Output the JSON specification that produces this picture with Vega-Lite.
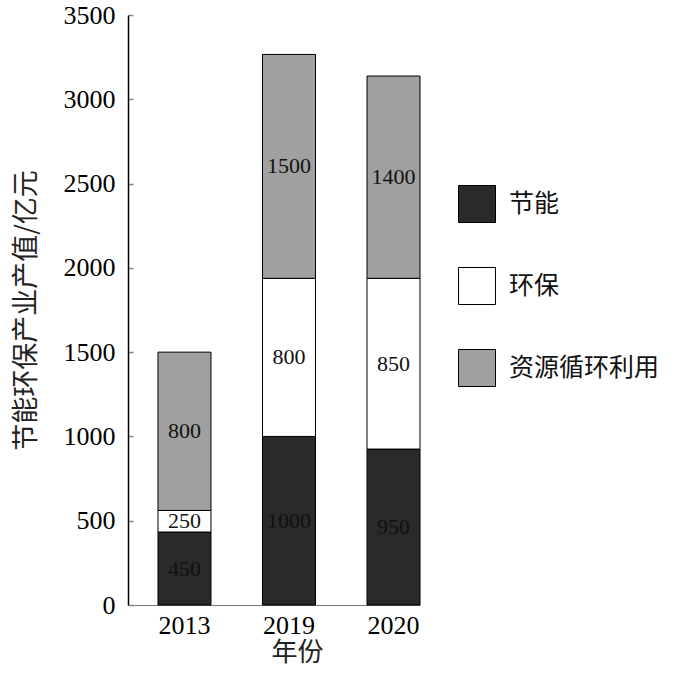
{
  "$schema": "https://vega.github.io/schema/vega-lite/v6.json",
  "autosize": "none",
  "padding": {"left": 128, "top": 15, "right": 255, "bottom": 68},
  "width": 292,
  "height": 590,
  "background": "white",
  "data": {"values": [
    {"year": "2013", "type": "节能", "k": 1, "value": 433, "label": "450"},
    {"year": "2013", "type": "环保", "k": 2, "value": 128, "label": "250"},
    {"year": "2013", "type": "资源循环利用", "k": 3, "value": 939, "label": "800"},
    {"year": "2019", "type": "节能", "k": 1, "value": 1000, "label": "1000"},
    {"year": "2019", "type": "环保", "k": 2, "value": 938, "label": "800"},
    {"year": "2019", "type": "资源循环利用", "k": 3, "value": 1328, "label": "1500"},
    {"year": "2020", "type": "节能", "k": 1, "value": 925, "label": "950"},
    {"year": "2020", "type": "环保", "k": 2, "value": 1013, "label": "850"},
    {"year": "2020", "type": "资源循环利用", "k": 3, "value": 1200, "label": "1400"}
  ]},
  "encoding": {
    "x": {
      "field": "year", "type": "nominal",
      "scale": {"paddingInner": 0.493, "paddingOuter": 0.1435, "align": 1},
      "axis": {
        "title": "年份", "labelAngle": 0, "ticks": false,
        "domainColor": "#777", "domainWidth": 1,
        "labelFont": "Liberation Serif", "labelFontSize": 26, "labelColor": "#000", "labelPadding": 7,
        "titleFont": "Noto Sans CJK SC", "titleFontSize": 26, "titleFontWeight": "normal", "titleColor": "#222",
        "titleX": 169, "titleY": 47, "titleBaseline": "middle", "titleAlign": "center", "titleAnchor": null
      }
    }
  },
  "layer": [
    {
      "mark": {"type": "bar", "stroke": "#000", "strokeWidth": 1},
      "encoding": {
        "y": {
          "field": "value", "type": "quantitative", "stack": "zero",
          "scale": {"domain": [0, 3500], "nice": false},
          "axis": {
            "values": [0, 500, 1000, 1500, 2000, 2500, 3000, 3500], "format": "d",
            "grid": false, "domainColor": "#000", "domainWidth": 1.5,
            "tickSize": -5, "tickColor": "#888", "tickWidth": 1.5,
            "labelFont": "Liberation Serif", "labelFontSize": 26, "labelColor": "#000", "labelPadding": 18,
            "title": "节能环保产业产值/亿元",
            "titleFont": "Noto Sans CJK SC", "titleFontSize": 27, "titleFontWeight": "normal", "titleColor": "#222",
            "titleAngle": -90, "titleX": -102, "titleY": 295, "titleBaseline": "middle", "titleAlign": "center", "titleAnchor": null
          }
        },
        "color": {
          "field": "type", "type": "nominal",
          "scale": {"domain": ["节能", "环保", "资源循环利用"], "range": ["#2a2a2a", "#ffffff", "#a0a0a0"]},
          "legend": {
            "title": null, "orient": "none", "legendX": 330, "legendY": 170,
            "symbolType": "square", "symbolSize": 1369, "symbolStrokeColor": "#000", "symbolStrokeWidth": 1,
            "labelFont": "Noto Sans CJK SC", "labelFontSize": 25, "labelColor": "#111", "labelOffset": 13,
            "rowPadding": 40, "padding": 0, "labelLimit": 300
          }
        },
        "order": {"field": "k", "type": "quantitative"}
      }
    },
    {
      "mark": {"type": "text", "font": "Liberation Serif", "fontSize": 22, "color": "#111", "baseline": "middle"},
      "encoding": {
        "y": {"field": "value", "type": "quantitative", "stack": "zero", "bandPosition": 0.5},
        "detail": {"field": "type"},
        "order": {"field": "k", "type": "quantitative"},
        "text": {"field": "label"}
      }
    }
  ],
  "config": {"view": {"stroke": null}}
}
